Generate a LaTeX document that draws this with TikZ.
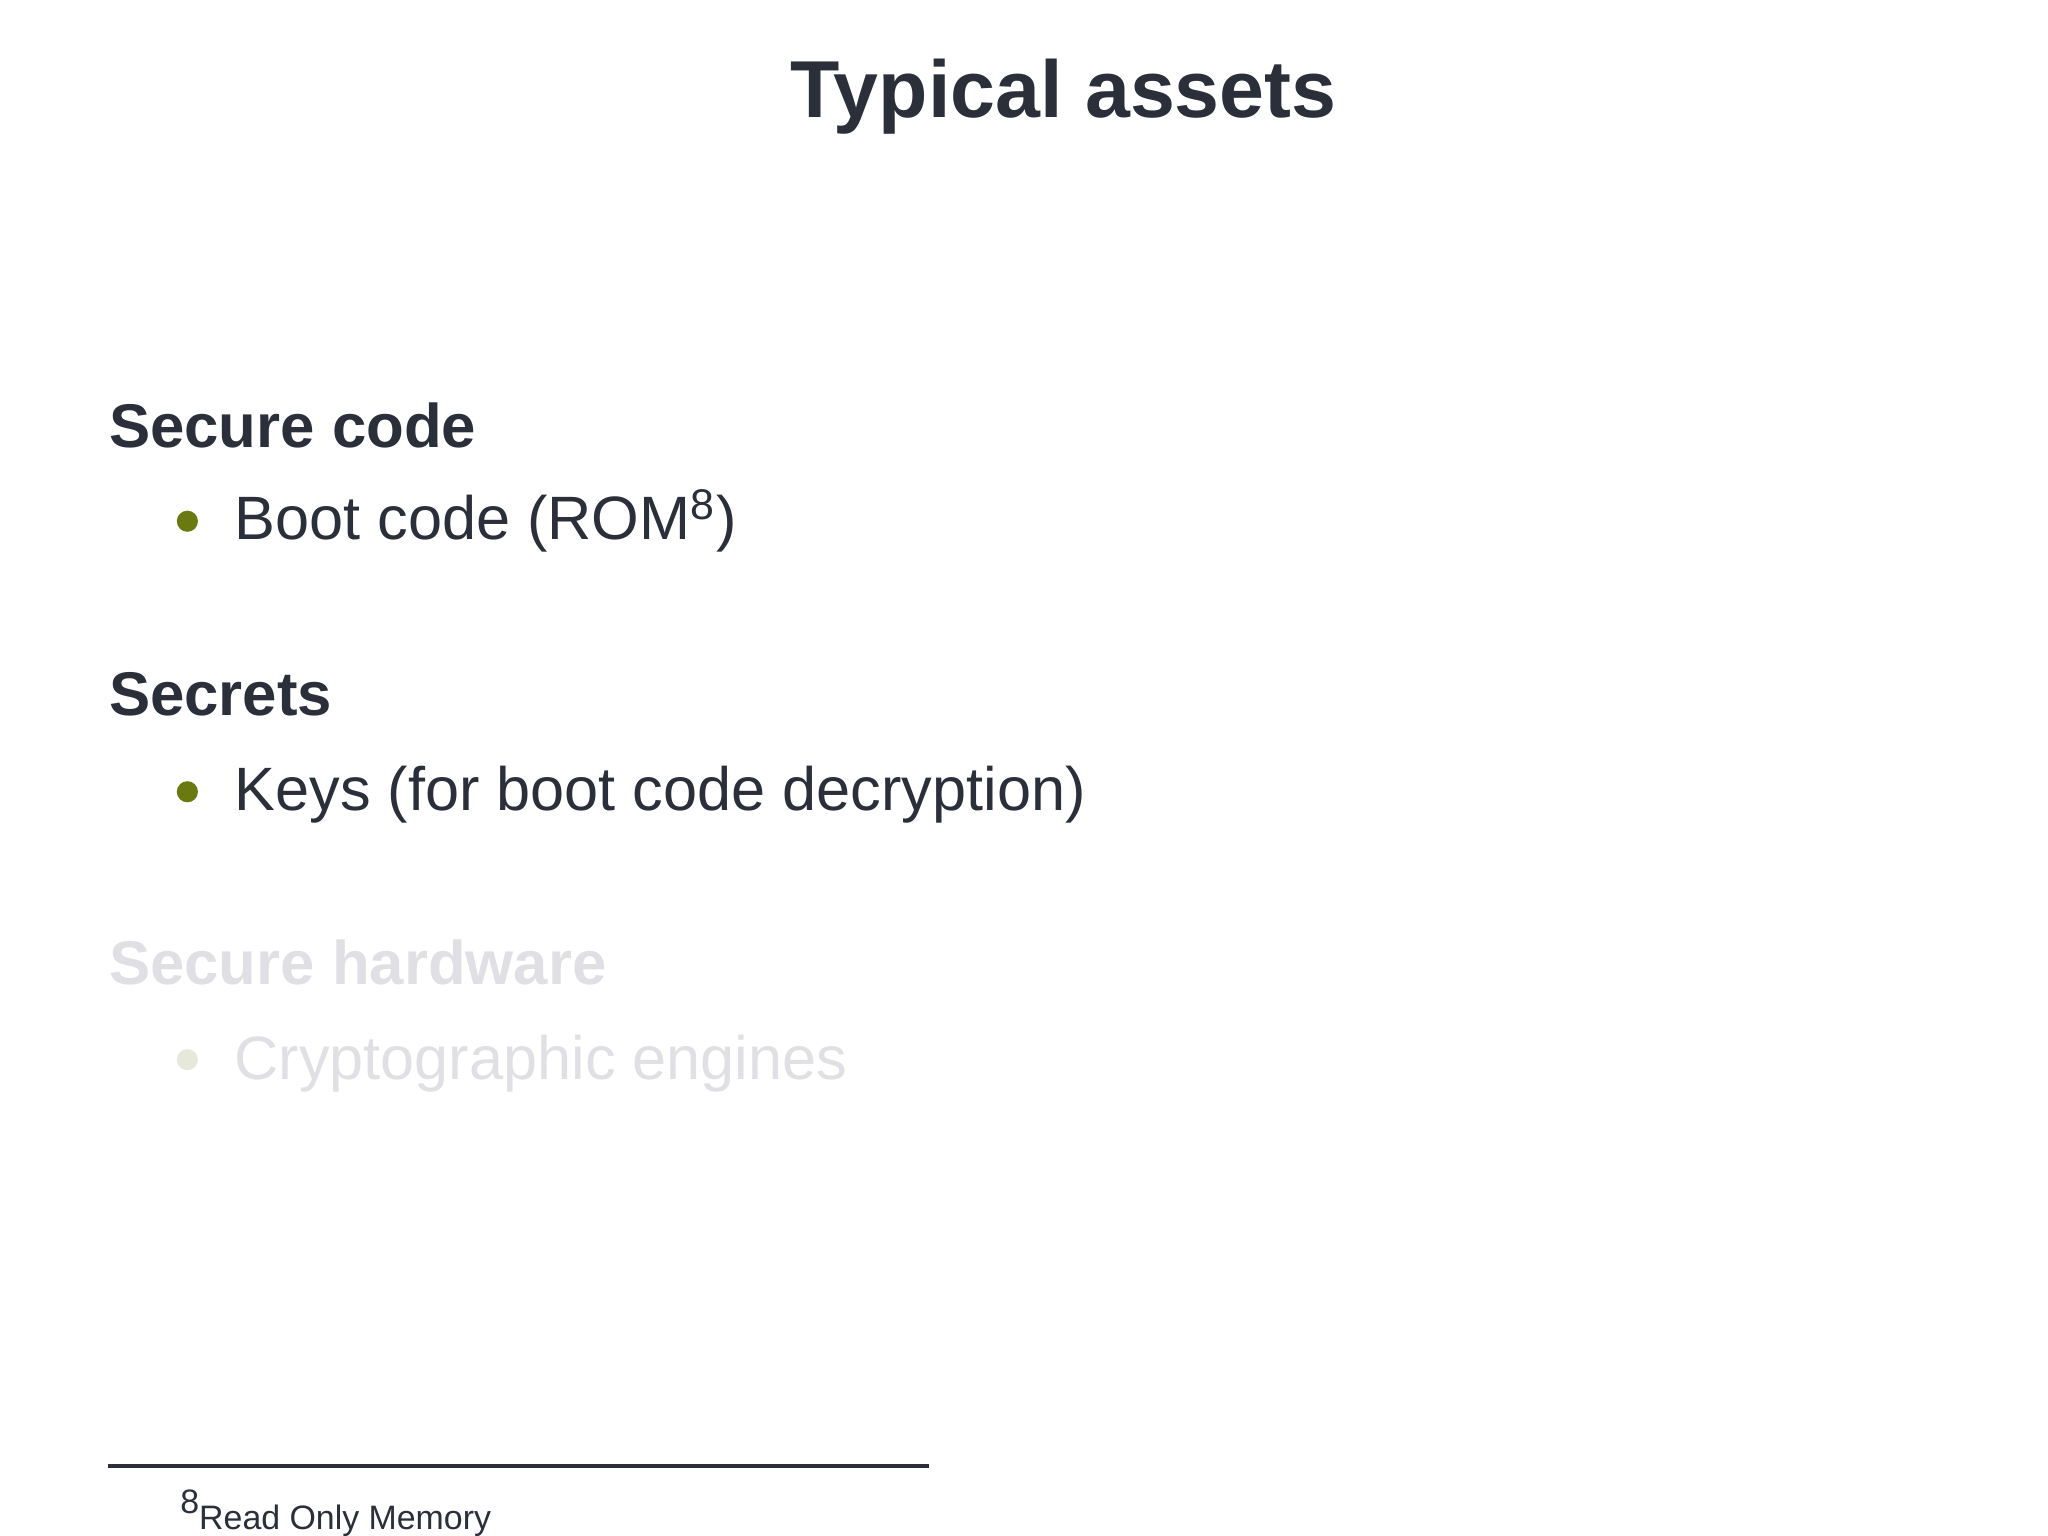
\documentclass[tikz,border=0pt]{standalone}
\usepackage{fontspec}
\setmainfont{Liberation Sans}
\definecolor{txt}{HTML}{2A2F3A}
\definecolor{olive}{HTML}{6B7A10}
\definecolor{fade}{HTML}{E0E0E4}
\definecolor{fadeb}{HTML}{E6E8DA}
\begin{document}
\begin{tikzpicture}[x=0.01cm,y=-0.01cm,
  head/.style={anchor=base west,inner sep=0,font=\fontsize{13.3pt}{16pt}\selectfont\bfseries,text=txt},
  item/.style={anchor=base west,inner sep=0,font=\fontsize{13.2pt}{16pt}\selectfont,text=txt},
  bul/.style={circle,fill=olive,inner sep=0,minimum size=0.16cm}]
\useasboundingbox (0,0) rectangle (1552,1164);
\node[anchor=base,inner sep=0,font=\fontsize{17.4pt}{21pt}\selectfont\bfseries,text=txt] (title) at (806,89) {Typical assets};
\node[head] (h1) at (82,339) {Secure code};
\node[bul] (b1) at (142,395) {};
\node[item] (i1) at (177,409) {Boot code (ROM\textsuperscript{8})};
\node[head] (h2) at (82,542) {Secrets};
\node[bul] (b2) at (142,600) {};
\node[item] (i2) at (177,614) {Keys (for boot code decryption)};
\node[head,text=fade] (h3) at (82,746) {Secure hardware};
\node[bul,fill=fadeb] (b3) at (142,803) {};
\node[item,text=fade] (i3) at (177,818) {Cryptographic engines};
\coordinate (fl) at (82,1111);
\coordinate (fr) at (704,1111);
\draw[txt,line width=0.7pt] (fl) -- (fr);
\node[anchor=base west,inner sep=0,font=\fontsize{7.3pt}{9pt}\selectfont,text=txt] (fn) at (136,1159) {\raisebox{0.9ex}{8}Read Only Memory};
\end{tikzpicture}
\end{document}
